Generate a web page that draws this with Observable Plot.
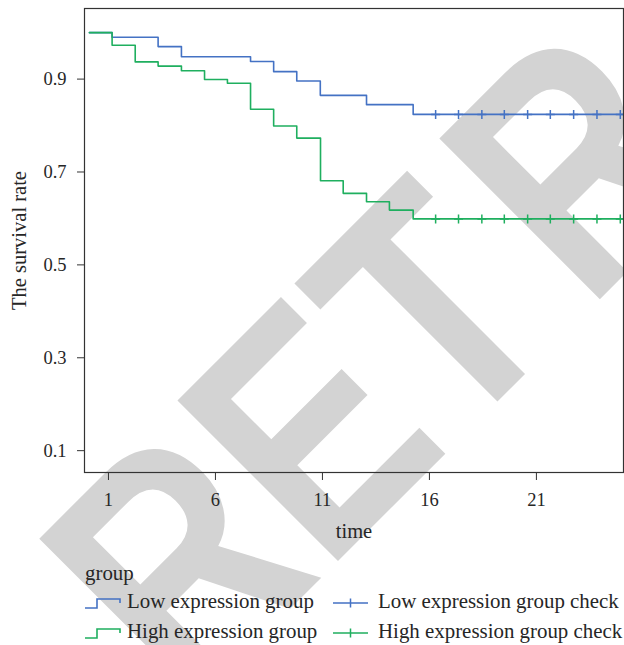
<!DOCTYPE html>
<html>
<head>
<meta charset="utf-8">
<script src="https://cdn.jsdelivr.net/npm/d3@7"></script>
<script src="https://cdn.jsdelivr.net/npm/@observablehq/plot@0.6"></script>
<style>
  html, body { margin: 0; padding: 0; background: #fff; }
  #wrap { position: relative; width: 624px; height: 645px; overflow: hidden; font-family: "Liberation Serif", "Times New Roman", serif; color: #262626; }
  #wm { position: absolute; left: 0; top: 0; }
  #chart { position: absolute; left: 0; top: 0; }
  #legend { position: absolute; left: 85px; top: 561px; font-size: 20.9px; }
  #legend .title { line-height: 25px; height: 25px; }
  #legend .grid { display: grid; grid-template-columns: 42px 206px 45px auto; grid-auto-rows: 30px; line-height: 30px; white-space: nowrap; }
  #legend svg { display: block; }
</style>
</head>
<body>
<div id="wrap">
  <svg id="wm" width="624" height="645"></svg>
  <div id="chart"></div>
  <div id="legend"></div>
</div>
<script>
// ---- data ----
const groups = ["Low expression group", "High expression group"];
const checkLabels = ["Low expression group check", "High expression group check"];
const colors = ["#4472C4", "#1FAF5F"];

const lowTime  = [0.11, 1.17, 3.32, 4.41, 7.64, 8.72, 9.80, 10.90, 13.06, 15.24, 25.07];
const lowSurv  = [1.000, 0.990, 0.970, 0.948, 0.938, 0.916, 0.896, 0.865, 0.845, 0.824, 0.824];
const highTime = [0.11, 1.17, 2.25, 3.32, 4.41, 5.49, 6.56, 7.64, 8.72, 9.80, 10.91, 11.97, 13.06, 14.13, 15.24, 25.07];
const highSurv = [1.000, 0.973, 0.937, 0.928, 0.918, 0.899, 0.891, 0.835, 0.799, 0.773, 0.681, 0.654, 0.636, 0.618, 0.599, 0.599];
const censorTime = [16.29, 17.36, 18.45, 19.50, 20.59, 21.65, 22.74, 23.83, 24.92];
const lowCensorSurv = 0.824;
const highCensorSurv = 0.599;

const xTicks = [1, 6, 11, 16, 21];
const yTicks = [0.1, 0.3, 0.5, 0.7, 0.9];

// ---- build tables ----
const curves = [
  ...lowTime.map((t, i) => ({time: t, surv: lowSurv[i], group: groups[0]})),
  ...highTime.map((t, i) => ({time: t, surv: highSurv[i], group: groups[1]}))
];
const censors = [
  ...censorTime.map(t => ({time: t, surv: lowCensorSurv, group: groups[0]})),
  ...censorTime.map(t => ({time: t, surv: highCensorSurv, group: groups[1]}))
];

const plusSym = {
  draw(ctx, size) {
    const r = Math.sqrt(size / Math.PI);
    ctx.moveTo(0, -r); ctx.lineTo(0, r);
    ctx.moveTo(-r, 0); ctx.lineTo(r, 0);
  }
};

// ---- watermark (behind everything) ----
const wm = d3.select("#wm");
wm.append("text")
  .attr("transform", "translate(187,712) rotate(-45) scale(0.82,1)")
  .attr("font-family", "Liberation Sans, Arial, sans-serif")
  .attr("font-weight", "bold")
  .attr("font-size", 330)
  .attr("fill", "#d3d3d3")
  .attr("dx", "0 0 0 30")
  .text("RETRACTED");

// ---- chart ----
const chart = Plot.plot({
  width: 624,
  height: 560,
  marginLeft: 84,
  marginRight: 1,
  marginTop: 8,
  marginBottom: 88,
  style: {background: "transparent", fontFamily: "Liberation Serif, Times New Roman, serif", fontSize: "18.5px", color: "#262626", overflow: "visible"},
  x: {domain: [-0.12, 25.07]},
  y: {domain: [0.053, 1.052]},
  color: {domain: groups, range: colors},
  marks: [
    Plot.axisX({ticks: xTicks, tickSize: 8, tickPadding: 12, label: null, stroke: "#333"}),
    Plot.axisY({ticks: yTicks, tickSize: 7, tickPadding: 11, tickFormat: d => d.toFixed(1), label: null, stroke: "#333"}),
    Plot.line(curves, {x: "time", y: "surv", z: "group", stroke: "group", curve: "step-after", strokeWidth: 1.6}),
    Plot.dot(censors, {x: "time", y: "surv", stroke: "group", fill: "none", symbol: plusSym, r: 4.5, strokeWidth: 1.5}),
    Plot.frame({stroke: "#333", strokeWidth: 1.2}),
    Plot.text(["time"], {frameAnchor: "bottom", textAnchor: "middle", lineAnchor: "middle", dy: 59, fontSize: 20.5, fill: "#262626"}),
    Plot.text(["The survival rate"], {frameAnchor: "left", textAnchor: "middle", lineAnchor: "middle", rotate: -90, dx: -65.5, fontSize: 20.5, fill: "#262626"})
  ]
});
document.getElementById("chart").appendChild(chart);

// ---- legend ----
const legend = d3.select("#legend");
legend.append("div").attr("class", "title").text("group");
const grid = legend.append("div").attr("class", "grid");
groups.forEach((g, i) => {
  const s1 = grid.append("div").append("svg").attr("width", 36).attr("height", 30);
  s1.append("path").attr("d", "M0,22H12V13H35V17").attr("fill", "none").attr("stroke", colors[i]).attr("stroke-width", 1.6);
  grid.append("div").text(g);
  const s2 = grid.append("div").append("svg").attr("width", 36).attr("height", 30);
  s2.append("path").attr("d", "M0,17H35M17.5,12.5V21.5").attr("fill", "none").attr("stroke", colors[i]).attr("stroke-width", 1.5);
  grid.append("div").text(checkLabels[i]);
});
</script>
</body>
</html>
